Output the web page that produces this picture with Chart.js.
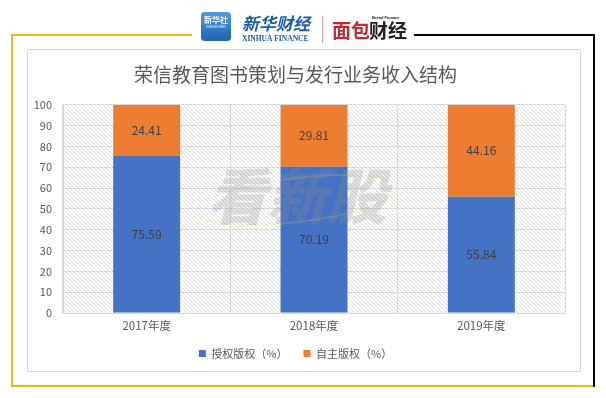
<!DOCTYPE html>
<html>
<head>
<meta charset="utf-8">
<script src="https://cdn.jsdelivr.net/npm/chart.js@4"></script>
<style>
  body { margin: 0; background: #fff; }
  #wrap { width: 606px; height: 398px; }
</style>
</head>
<body>
<div id="wrap"><canvas id="canvas" width="606" height="398"></canvas></div>
<script>
const years = ['2017年度', '2018年度', '2019年度']
const licensed = [75.59, 70.19, 55.84]
const own = [24.41, 29.81, 44.16]
const seriesNames = ['授权版权（%）', '自主版权（%）']
const yTicks = [0, 10, 20, 30, 40, 50, 60, 70, 80, 90, 100]

const FONT = "'Noto Sans CJK SC', 'Noto Sans', sans-serif"
const GREY = '#595959'

// frame, logos and the hatched plot background
const backdrop = {
  id: 'backdrop',
  beforeDraw(chart) {
    const ctx = chart.ctx
    ctx.save()
    ctx.fillStyle = '#fff'
    ctx.fillRect(0, 0, chart.width, chart.height)

    // outer frame
    ctx.lineWidth = 2
    ctx.strokeStyle = '#ECB613'
    ctx.beginPath()
    ctx.moveTo(192, 35); ctx.lineTo(12, 35); ctx.lineTo(12, 386); ctx.lineTo(594, 386)
    ctx.stroke()
    ctx.strokeStyle = '#000'
    ctx.beginPath()
    ctx.moveTo(414, 35); ctx.lineTo(594, 35); ctx.lineTo(594, 387)
    ctx.stroke()

    // inner box
    ctx.lineWidth = 1
    ctx.strokeStyle = '#d9d9d9'
    ctx.strokeRect(27.5, 49.5, 553, 322)

    // xinhua logo
    const g = ctx.createLinearGradient(0, 12, 0, 41)
    g.addColorStop(0, '#4d9be0'); g.addColorStop(1, '#1d62ad')
    ctx.fillStyle = g
    ctx.beginPath()
    ctx.roundRect(201, 12, 30, 29, 4)
    ctx.fill()
    ctx.fillStyle = '#fff'
    ctx.font = "bold 8px " + FONT
    ctx.textAlign = 'center'
    ctx.textBaseline = 'alphabetic'
    ctx.fillText('新华社', 216, 23)
    ctx.font = "3px " + FONT
    ctx.fillText('XINHUA NEWS', 216, 28)
    ctx.fillStyle = '#1a5ca8'
    ctx.textAlign = 'left'
    ctx.font = "italic bold 17px " + FONT
    ctx.fillText('新华财经', 242, 30)
    ctx.font = "bold 7.5px 'Liberation Serif', serif"
    ctx.fillText('XINHUA FINANCE', 242, 41)
    ctx.strokeStyle = '#e09a9a'
    ctx.beginPath(); ctx.moveTo(322.5, 16); ctx.lineTo(322.5, 43); ctx.stroke()

    // bread finance logo
    ctx.font = "bold 19px " + FONT
    ctx.fillStyle = '#c8252c'
    ctx.fillText('面包', 332, 38)
    ctx.fillStyle = '#222'
    ctx.fillText('财经', 369, 38)
    ctx.font = "bold 4px 'Liberation Sans', sans-serif"
    ctx.fillText('Bread Finance', 372, 19)

    // hatch inside the plot area
    const a = chart.chartArea
    ctx.save()
    ctx.beginPath()
    ctx.rect(a.left, a.top, a.right - a.left, a.bottom - a.top)
    ctx.clip()
    ctx.strokeStyle = '#d6d6d6'
    ctx.lineWidth = 0.8
    const h = a.bottom - a.top
    ctx.beginPath()
    for (let x = a.left - h; x < a.right; x += 4) {
      ctx.moveTo(x, a.top); ctx.lineTo(x + h, a.bottom)
    }
    ctx.stroke()
    ctx.restore()
    ctx.restore()
  }
}

// watermark and values printed in the bars
const overlay = {
  id: 'overlay',
  afterDatasetsDraw(chart) {
    const ctx = chart.ctx
    ctx.save()
    ctx.strokeStyle = 'rgba(240,200,90,0.2)'
    ctx.lineWidth = 2
    ctx.beginPath()
    ctx.ellipse(297, 200, 100, 22, -0.12, 0.2, Math.PI * 1.9)
    ctx.stroke()
    ctx.fillStyle = 'rgba(140,140,140,0.26)'
    ctx.font = "italic 900 60px " + FONT
    ctx.textAlign = 'center'
    ctx.textBaseline = 'middle'
    ctx.fillText('看新股', 297, 196)

    ctx.fillStyle = '#404040'
    ctx.font = "12px " + FONT
    chart.data.datasets.forEach((ds, i) => {
      chart.getDatasetMeta(i).data.forEach((bar, j) => {
        const p = bar.getProps(['x', 'y', 'base'], true)
        ctx.fillText(ds.data[j].toFixed(2), p.x, (p.y + p.base) / 2)
      })
    })
    ctx.restore()
  }
}

const data = {
  labels: years,
  datasets: [
    {
      label: seriesNames[0],
      data: licensed,
      backgroundColor: '#4472C4',
      borderWidth: 0,
      categoryPercentage: 1,
      barPercentage: 0.4,
    },
    {
      label: seriesNames[1],
      data: own,
      backgroundColor: '#ED7D31',
      borderWidth: 0,
      categoryPercentage: 1,
      barPercentage: 0.4,
    },
  ],
}

const config = {
  type: 'bar',
  data: data,
  plugins: [backdrop, overlay],
  options: {
    responsive: false,
    animation: false,
    layout: { padding: { left: 26, right: 41, top: 49, bottom: 29 } },
    plugins: {
      title: {
        display: true,
        text: '荣信教育图书策划与发行业务收入结构',
        color: GREY,
        font: { family: FONT, size: 19, weight: 'normal' },
        padding: { top: 14, bottom: 19 },
      },
      legend: {
        position: 'bottom',
        labels: {
          color: GREY,
          font: { family: FONT, size: 11 },
          boxWidth: 7,
          boxHeight: 7,
          padding: 16,
        },
      },
      tooltip: { enabled: false },
    },
    scales: {
      x: {
        stacked: true,
        grid: { color: '#d9d9d9', drawTicks: false, offset: true },
        border: { color: '#d9d9d9' },
        ticks: { color: GREY, font: { family: FONT, size: 11.5 }, padding: 6 },
        afterFit: s => { s.height = 19 },
      },
      y: {
        stacked: true,
        min: 0,
        max: 100,
        grid: { color: '#d9d9d9', drawTicks: false },
        border: { color: '#d9d9d9' },
        ticks: {
          stepSize: 10,
          color: GREY,
          font: { family: FONT, size: 11 },
          padding: 11,
          callback: v => yTicks.includes(v) ? v : '',
        },
        afterFit: s => { s.width = 37 },
      },
    },
  },
}

const canvas = document.getElementById('canvas')
const chart = new Chart(canvas, config)
</script>
</body>
</html>
